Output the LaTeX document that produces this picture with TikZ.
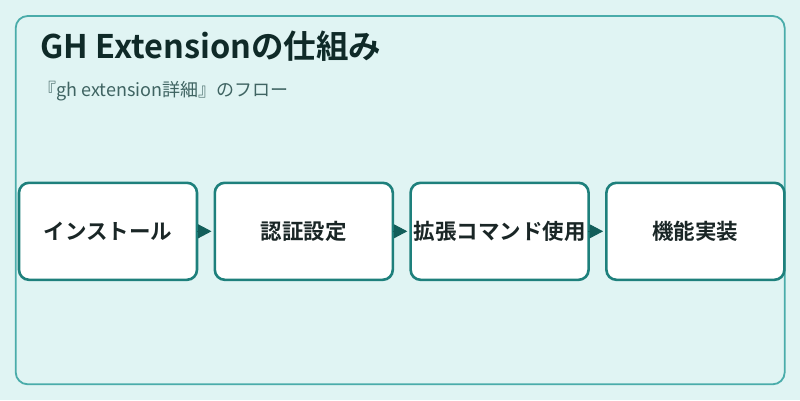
\documentclass[tikz,border=0pt]{standalone}
\usepackage{fontspec}
\setmainfont{Noto Sans CJK JP}
\newfontfamily\jpbold{Noto Sans CJK JP Bold}
\usetikzlibrary{arrows.meta}
\definecolor{bgc}{HTML}{E0F4F3}
\definecolor{outerc}{HTML}{4AACAA}
\definecolor{boxc}{HTML}{1E807C}
\definecolor{arrc}{HTML}{125E5A}
\definecolor{titlec}{HTML}{0F2A28}
\definecolor{subc}{HTML}{3F6462}
\definecolor{labc}{HTML}{1A2626}
\begin{document}
\begin{tikzpicture}[x=1pt,y=-1pt,
  stepbox/.style={draw=boxc,line width=2.6pt,fill=white,rounded corners=10pt,
    minimum width=178pt,minimum height=97pt,inner sep=0pt,anchor=north west,
    font=\fontsize{21.5}{25}\selectfont\jpbold,text=labc},
  flowarrow/.style={draw=arrc,line width=1pt,shorten <=1.5pt,shorten >=2pt,
    -{Triangle[length=13.5pt,width=14pt]}},
]
\useasboundingbox (0,0) rectangle (800,400);
\fill[bgc] (0,0) rectangle (800,400);
\draw[outerc,line width=1.8pt,rounded corners=12pt] (15.7,16) rectangle (784.7,384.3);
\node[anchor=base west,text=titlec,font=\fontsize{32.5}{38}\selectfont\jpbold,inner sep=0pt] (title) at (40,58) {GH Extensionの仕組み};
\node[anchor=base west,text=subc,font=\fontsize{18}{22}\selectfont,inner sep=0pt] (sub) at (38,96) {『gh extension詳細』のフロー};
\node[stepbox] (s1) at (17.7,181.5) {インストール};
\node[stepbox] (s2) at (213.5,181.5) {認証設定};
\node[stepbox] (s3) at (409.3,181.5) {拡張コマンド使用};
\node[stepbox] (s4) at (605.1,181.5) {機能実装};
\draw[flowarrow] (s1.east) -- (s2.west);
\draw[flowarrow] (s2.east) -- (s3.west);
\draw[flowarrow] (s3.east) -- (s4.west);
\end{tikzpicture}
\end{document}
